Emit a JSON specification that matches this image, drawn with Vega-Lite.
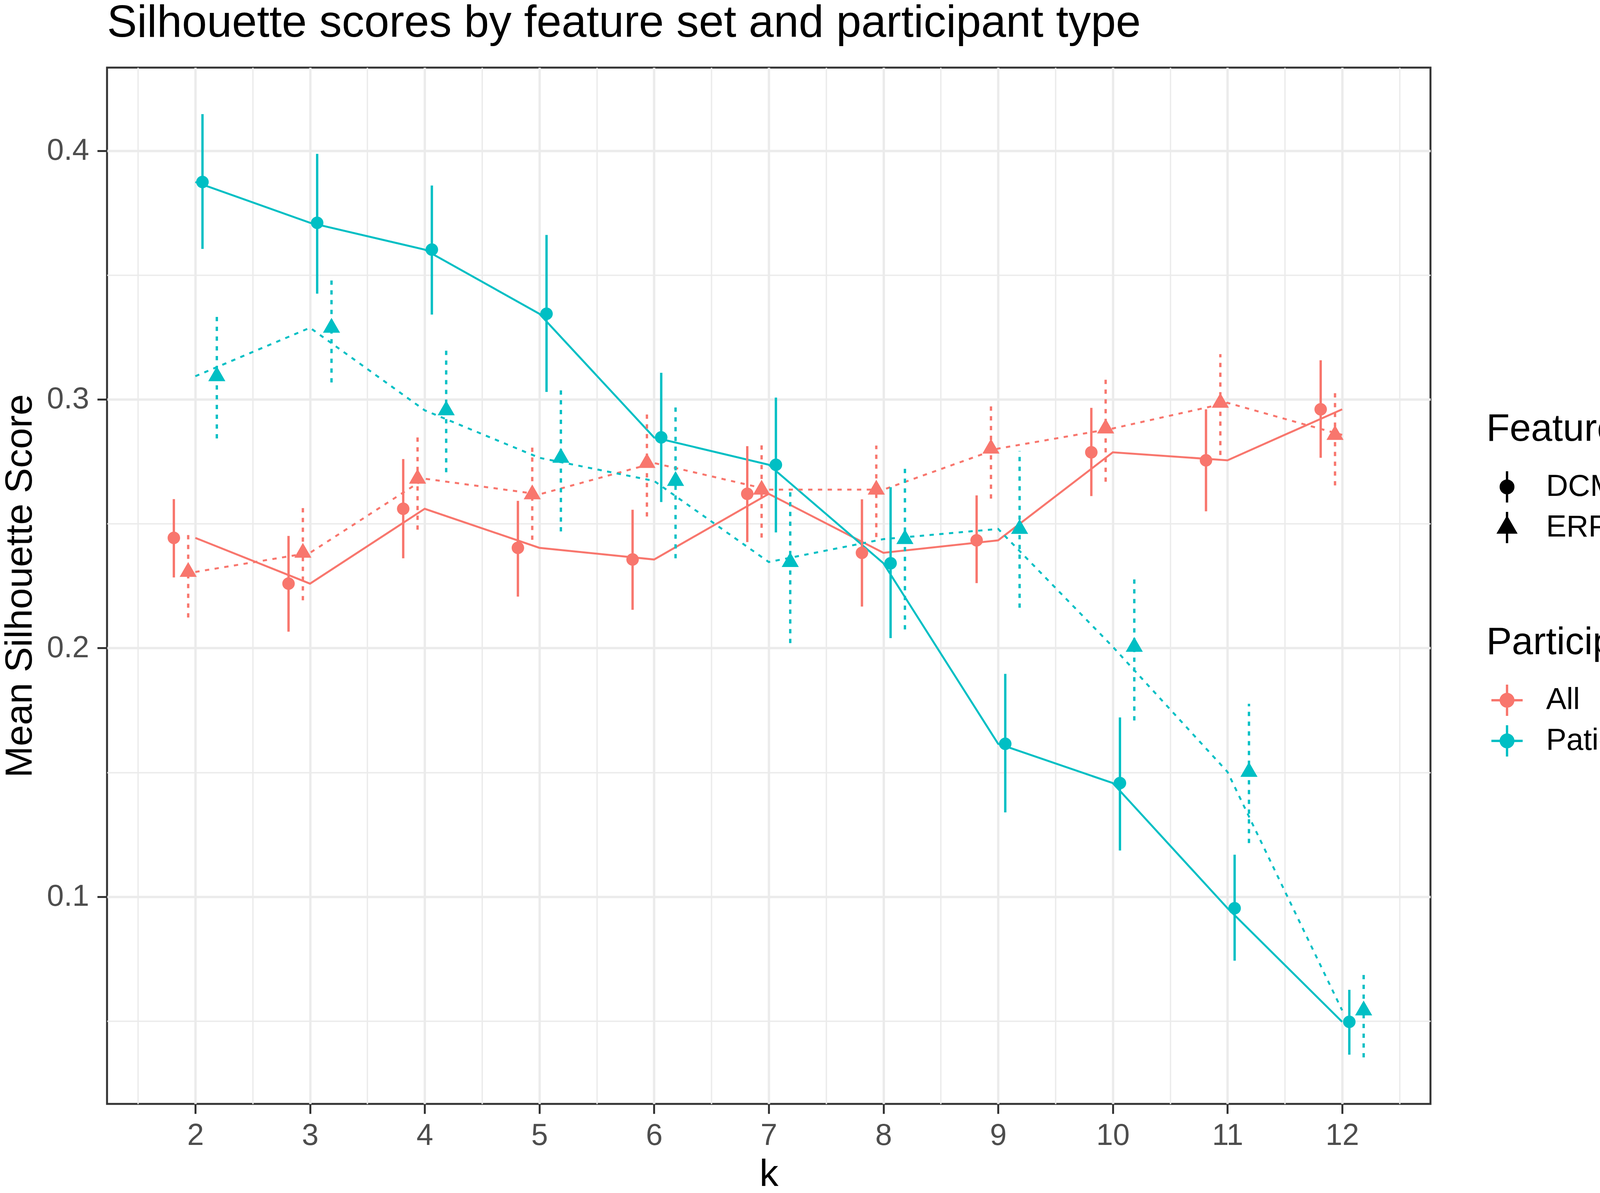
{
  "$schema": "https://vega.github.io/schema/vega-lite/v6.json",
  "width": 4328,
  "height": 3053,
  "autosize": {"type": "fit", "contains": "padding"},
  "padding": {"left": 2, "top": 2, "right": 10, "bottom": 0},
  "background": "white",
  "config": {
    "font": "Liberation Sans",
    "view": {"stroke": "#333333", "strokeWidth": 5},
    "legend": {"padding": 0, "layout": {"right": {"anchor": "middle", "direction": "vertical", "margin": 195}}}
  },
  "title": {
    "text": "Silhouette scores by feature set and participant type",
    "anchor": "start",
    "frame": "group",
    "font": "Liberation Sans",
    "fontSize": 115,
    "fontWeight": "normal",
    "color": "black",
    "baseline": "top",
    "offset": 55
  },
  "data": {
    "values": [
      {"k": 2, "participants": "All", "features": "DCM", "mean": 0.2443, "lo": 0.2284, "hi": 0.2599},
      {"k": 3, "participants": "All", "features": "DCM", "mean": 0.2259, "lo": 0.2066, "hi": 0.2451},
      {"k": 4, "participants": "All", "features": "DCM", "mean": 0.2560, "lo": 0.2361, "hi": 0.2760},
      {"k": 5, "participants": "All", "features": "DCM", "mean": 0.2403, "lo": 0.2207, "hi": 0.2592},
      {"k": 6, "participants": "All", "features": "DCM", "mean": 0.2356, "lo": 0.2154, "hi": 0.2556},
      {"k": 7, "participants": "All", "features": "DCM", "mean": 0.2620, "lo": 0.2426, "hi": 0.2812},
      {"k": 8, "participants": "All", "features": "DCM", "mean": 0.2383, "lo": 0.2167, "hi": 0.2598},
      {"k": 9, "participants": "All", "features": "DCM", "mean": 0.2433, "lo": 0.2261, "hi": 0.2614},
      {"k": 10, "participants": "All", "features": "DCM", "mean": 0.2787, "lo": 0.2611, "hi": 0.2966},
      {"k": 11, "participants": "All", "features": "DCM", "mean": 0.2755, "lo": 0.2550, "hi": 0.2960},
      {"k": 12, "participants": "All", "features": "DCM", "mean": 0.2960, "lo": 0.2765, "hi": 0.3157},
      {"k": 2, "participants": "All", "features": "ERP", "mean": 0.2306, "lo": 0.2123, "hi": 0.2465},
      {"k": 3, "participants": "All", "features": "ERP", "mean": 0.2383, "lo": 0.2192, "hi": 0.2570},
      {"k": 4, "participants": "All", "features": "ERP", "mean": 0.2681, "lo": 0.2476, "hi": 0.2859},
      {"k": 5, "participants": "All", "features": "ERP", "mean": 0.2618, "lo": 0.2435, "hi": 0.2815},
      {"k": 6, "participants": "All", "features": "ERP", "mean": 0.2744, "lo": 0.2529, "hi": 0.2954},
      {"k": 7, "participants": "All", "features": "ERP", "mean": 0.2637, "lo": 0.2444, "hi": 0.2825},
      {"k": 8, "participants": "All", "features": "ERP", "mean": 0.2637, "lo": 0.2446, "hi": 0.2814},
      {"k": 9, "participants": "All", "features": "ERP", "mean": 0.2802, "lo": 0.2601, "hi": 0.2982},
      {"k": 10, "participants": "All", "features": "ERP", "mean": 0.2883, "lo": 0.2669, "hi": 0.3079},
      {"k": 11, "participants": "All", "features": "ERP", "mean": 0.2986, "lo": 0.2776, "hi": 0.3182},
      {"k": 12, "participants": "All", "features": "ERP", "mean": 0.2857, "lo": 0.2654, "hi": 0.3034},
      {"k": 2, "participants": "Patient", "features": "DCM", "mean": 0.3874, "lo": 0.3605, "hi": 0.4147},
      {"k": 3, "participants": "Patient", "features": "DCM", "mean": 0.3710, "lo": 0.3425, "hi": 0.3987},
      {"k": 4, "participants": "Patient", "features": "DCM", "mean": 0.3602, "lo": 0.3341, "hi": 0.3860},
      {"k": 5, "participants": "Patient", "features": "DCM", "mean": 0.3344, "lo": 0.3030, "hi": 0.3661},
      {"k": 6, "participants": "Patient", "features": "DCM", "mean": 0.2847, "lo": 0.2587, "hi": 0.3107},
      {"k": 7, "participants": "Patient", "features": "DCM", "mean": 0.2737, "lo": 0.2465, "hi": 0.3007},
      {"k": 8, "participants": "Patient", "features": "DCM", "mean": 0.2341, "lo": 0.2040, "hi": 0.2647},
      {"k": 9, "participants": "Patient", "features": "DCM", "mean": 0.1615, "lo": 0.1339, "hi": 0.1896},
      {"k": 10, "participants": "Patient", "features": "DCM", "mean": 0.1457, "lo": 0.1186, "hi": 0.1721},
      {"k": 11, "participants": "Patient", "features": "DCM", "mean": 0.0954, "lo": 0.0743, "hi": 0.1169},
      {"k": 12, "participants": "Patient", "features": "DCM", "mean": 0.0497, "lo": 0.0365, "hi": 0.0626},
      {"k": 2, "participants": "Patient", "features": "ERP", "mean": 0.3093, "lo": 0.2843, "hi": 0.3335},
      {"k": 3, "participants": "Patient", "features": "ERP", "mean": 0.3288, "lo": 0.3068, "hi": 0.3495},
      {"k": 4, "participants": "Patient", "features": "ERP", "mean": 0.2956, "lo": 0.2707, "hi": 0.3212},
      {"k": 5, "participants": "Patient", "features": "ERP", "mean": 0.2765, "lo": 0.2469, "hi": 0.3055},
      {"k": 6, "participants": "Patient", "features": "ERP", "mean": 0.2672, "lo": 0.2361, "hi": 0.2982},
      {"k": 7, "participants": "Patient", "features": "ERP", "mean": 0.2346, "lo": 0.2020, "hi": 0.2641},
      {"k": 8, "participants": "Patient", "features": "ERP", "mean": 0.2438, "lo": 0.2075, "hi": 0.2742},
      {"k": 9, "participants": "Patient", "features": "ERP", "mean": 0.2479, "lo": 0.2162, "hi": 0.2792},
      {"k": 10, "participants": "Patient", "features": "ERP", "mean": 0.2005, "lo": 0.1709, "hi": 0.2278},
      {"k": 11, "participants": "Patient", "features": "ERP", "mean": 0.1502, "lo": 0.1216, "hi": 0.1776},
      {"k": 12, "participants": "Patient", "features": "ERP", "mean": 0.0543, "lo": 0.0354, "hi": 0.0693}
    ]
  },
  "encoding": {
    "x": {
      "field": "k",
      "type": "quantitative",
      "scale": {"domain": [1.23, 12.77], "nice": false, "zero": false},
      "axis": {
        "title": "k",
        "values": [1.5, 2, 2.5, 3, 3.5, 4, 4.5, 5, 5.5, 6, 6.5, 7, 7.5, 8, 8.5, 9, 9.5, 10, 10.5, 11, 11.5, 12, 12.5],
        "labelExpr": "datum.value % 1 == 0 ? format(datum.value, 'd') : ''",
        "grid": true,
        "gridColor": "#EBEBEB",
        "gridWidth": {"condition": {"test": "datum.value % 1 != 0", "value": 3.5}, "value": 6},
        "tickOpacity": {"condition": {"test": "datum.value % 1 != 0", "value": 0}, "value": 1},
        "domain": false,
        "tickSize": 25,
        "tickWidth": 5,
        "tickColor": "#333333",
        "labelFont": "Liberation Sans",
        "labelFontSize": 77,
        "labelColor": "#4D4D4D",
        "labelPadding": 18,
        "labelOverlap": false,
        "labelFlush": false,
        "titleFont": "Liberation Sans",
        "titleFontSize": 97,
        "titleFontWeight": "normal",
        "titleColor": "black",
        "titleBaseline": "alphabetic",
        "titleY": 209
      }
    }
  },
  "layer": [
    {
      "transform": [{"filter": "false"}],
      "mark": {"type": "point", "filled": true, "opacity": 1, "size": 6400},
      "encoding": {
        "y": {"field": "mean", "type": "quantitative", "scale": {"domain": [0.0167, 0.4334], "nice": false, "zero": false}},
        "shape": {
          "field": "features", "type": "nominal",
          "scale": {"domain": ["DCM", "ERP"], "range": ["M0,-1L0,1M-0.4,0A0.4,0.4 0 1,0 0.4,0A0.4,0.4 0 1,0 -0.4,0Z", "M0,-1L0,1M0,-0.633L0.548,0.317L-0.548,0.317Z"]},
          "legend": {
            "title": "Features", "orient": "right", "offset": 143,
            "symbolSize": 6400, "symbolStrokeWidth": 6, "symbolOffset": 10,
            "symbolFillColor": "black", "symbolStrokeColor": "black",
            "titleFont": "Liberation Sans", "titleFontSize": 98, "titleFontWeight": "normal", "titleColor": "black", "titlePadding": 54, "titleLimit": 2000,
            "labelFont": "Liberation Sans", "labelFontSize": 78, "labelColor": "black", "labelOffset": 57, "labelLimit": 2000,
            "rowPadding": 0, "padding": 0
          }
        },
        "fill": {"field": "participants", "type": "nominal", "scale": {"domain": ["All", "Patient"], "range": ["#F8766D", "#00BFC4"]}}
      }
    },
    {
      "transform": [{"filter": "datum.features == 'DCM'"}],
      "mark": {"type": "line", "strokeWidth": 5},
      "encoding": {
        "y": {
          "field": "mean",
          "type": "quantitative",
          "scale": {"domain": [0.0167, 0.4334], "nice": false, "zero": false},
          "axis": {
            "title": "Mean Silhouette Score",
            "values": [0.05, 0.1, 0.15, 0.2, 0.25, 0.3, 0.35, 0.4],
            "labelExpr": "round(datum.value*100) % 10 == 0 ? format(datum.value, '.1f') : ''",
            "grid": true,
            "gridColor": "#EBEBEB",
            "gridWidth": {"condition": {"test": "round(datum.value*100) % 10 != 0", "value": 3.5}, "value": 6},
            "tickOpacity": {"condition": {"test": "round(datum.value*100) % 10 != 0", "value": 0}, "value": 1},
            "domain": false,
            "tickSize": 25,
            "tickWidth": 5,
            "tickColor": "#333333",
            "labelFont": "Liberation Sans",
            "labelFontSize": 78,
            "labelColor": "#4D4D4D",
            "labelPadding": 21,
            "labelOverlap": false,
            "labelFlush": false,
            "titleFont": "Liberation Sans",
            "titleFontSize": 97,
            "titleFontWeight": "normal",
            "titleColor": "black",
            "titleBaseline": "alphabetic",
            "titleX": -194
          }
        },
        "color": {
          "field": "participants",
          "type": "nominal",
          "scale": {"domain": ["All", "Patient"], "range": ["#F8766D", "#00BFC4"]},
          "legend": {
            "title": "Participants",
            "orient": "right",
            "offset": 143,
            "symbolType": "M-1,0L1,0M0,-1L0,1M-0.4,0A0.4,0.4 0 1,0 0.4,0A0.4,0.4 0 1,0 -0.4,0Z",
            "symbolSize": 6400,
            "symbolStrokeWidth": 6,
            "symbolOffset": 10,
            "titleFont": "Liberation Sans",
            "titleFontSize": 98,
            "titleFontWeight": "normal",
            "titleColor": "black",
            "titlePadding": 54,
            "titleLimit": 2000,
            "labelFont": "Liberation Sans",
            "labelFontSize": 78,
            "labelColor": "black",
            "labelOffset": 57,
            "labelLimit": 2000,
            "rowPadding": 0,
            "padding": 0
          }
        }
      }
    },
    {
      "transform": [{"filter": "datum.features == 'ERP'"}],
      "mark": {"type": "line", "strokeWidth": 5, "strokeDash": [11, 14]},
      "encoding": {
        "y": {"field": "mean", "type": "quantitative", "scale": {"domain": [0.0167, 0.4334], "nice": false, "zero": false}},
        "color": {"field": "participants", "type": "nominal", "scale": {"domain": ["All", "Patient"], "range": ["#F8766D", "#00BFC4"]}}
      }
    },
    {
      "transform": [{"filter": "datum.participants == 'All' && datum.features == 'DCM'"}],
      "encoding": {
        "color": {"field": "participants", "type": "nominal", "scale": {"domain": ["All", "Patient"], "range": ["#F8766D", "#00BFC4"]}}
      },
      "layer": [
        {
          "mark": {"type": "rule", "strokeWidth": 6, "xOffset": -55},
          "encoding": {
            "y": {"field": "lo", "type": "quantitative", "scale": {"domain": [0.0167, 0.4334], "nice": false, "zero": false}},
            "y2": {"field": "hi"}
          }
        },
        {
          "mark": {"type": "point", "filled": true, "opacity": 1, "size": 6400, "xOffset": -55},
          "encoding": {
            "y": {"field": "mean", "type": "quantitative", "scale": {"domain": [0.0167, 0.4334], "nice": false, "zero": false}},
            "shape": {"field": "features", "type": "nominal"}
          }
        }
      ]
    },
    {
      "transform": [{"filter": "datum.participants == 'All' && datum.features == 'ERP'"}],
      "encoding": {
        "color": {"field": "participants", "type": "nominal", "scale": {"domain": ["All", "Patient"], "range": ["#F8766D", "#00BFC4"]}}
      },
      "layer": [
        {
          "mark": {"type": "rule", "strokeWidth": 6, "xOffset": -18.3, "strokeDash": [11, 14]},
          "encoding": {
            "y": {"field": "lo", "type": "quantitative", "scale": {"domain": [0.0167, 0.4334], "nice": false, "zero": false}},
            "y2": {"field": "hi"}
          }
        },
        {
          "mark": {"type": "point", "filled": true, "opacity": 1, "size": 6400, "xOffset": -18.3},
          "encoding": {
            "y": {"field": "mean", "type": "quantitative", "scale": {"domain": [0.0167, 0.4334], "nice": false, "zero": false}},
            "shape": {"field": "features", "type": "nominal"}
          }
        }
      ]
    },
    {
      "transform": [{"filter": "datum.participants == 'Patient' && datum.features == 'DCM'"}],
      "encoding": {
        "color": {"field": "participants", "type": "nominal", "scale": {"domain": ["All", "Patient"], "range": ["#F8766D", "#00BFC4"]}}
      },
      "layer": [
        {
          "mark": {"type": "rule", "strokeWidth": 6, "xOffset": 18.3},
          "encoding": {
            "y": {"field": "lo", "type": "quantitative", "scale": {"domain": [0.0167, 0.4334], "nice": false, "zero": false}},
            "y2": {"field": "hi"}
          }
        },
        {
          "mark": {"type": "point", "filled": true, "opacity": 1, "size": 6400, "xOffset": 18.3},
          "encoding": {
            "y": {"field": "mean", "type": "quantitative", "scale": {"domain": [0.0167, 0.4334], "nice": false, "zero": false}},
            "shape": {"field": "features", "type": "nominal"}
          }
        }
      ]
    },
    {
      "transform": [{"filter": "datum.participants == 'Patient' && datum.features == 'ERP'"}],
      "encoding": {
        "color": {"field": "participants", "type": "nominal", "scale": {"domain": ["All", "Patient"], "range": ["#F8766D", "#00BFC4"]}}
      },
      "layer": [
        {
          "mark": {"type": "rule", "strokeWidth": 6, "xOffset": 55, "strokeDash": [11, 14]},
          "encoding": {
            "y": {"field": "lo", "type": "quantitative", "scale": {"domain": [0.0167, 0.4334], "nice": false, "zero": false}},
            "y2": {"field": "hi"}
          }
        },
        {
          "mark": {"type": "point", "filled": true, "opacity": 1, "size": 6400, "xOffset": 55},
          "encoding": {
            "y": {"field": "mean", "type": "quantitative", "scale": {"domain": [0.0167, 0.4334], "nice": false, "zero": false}},
            "shape": {"field": "features", "type": "nominal"}
          }
        }
      ]
    }
  ]
}
